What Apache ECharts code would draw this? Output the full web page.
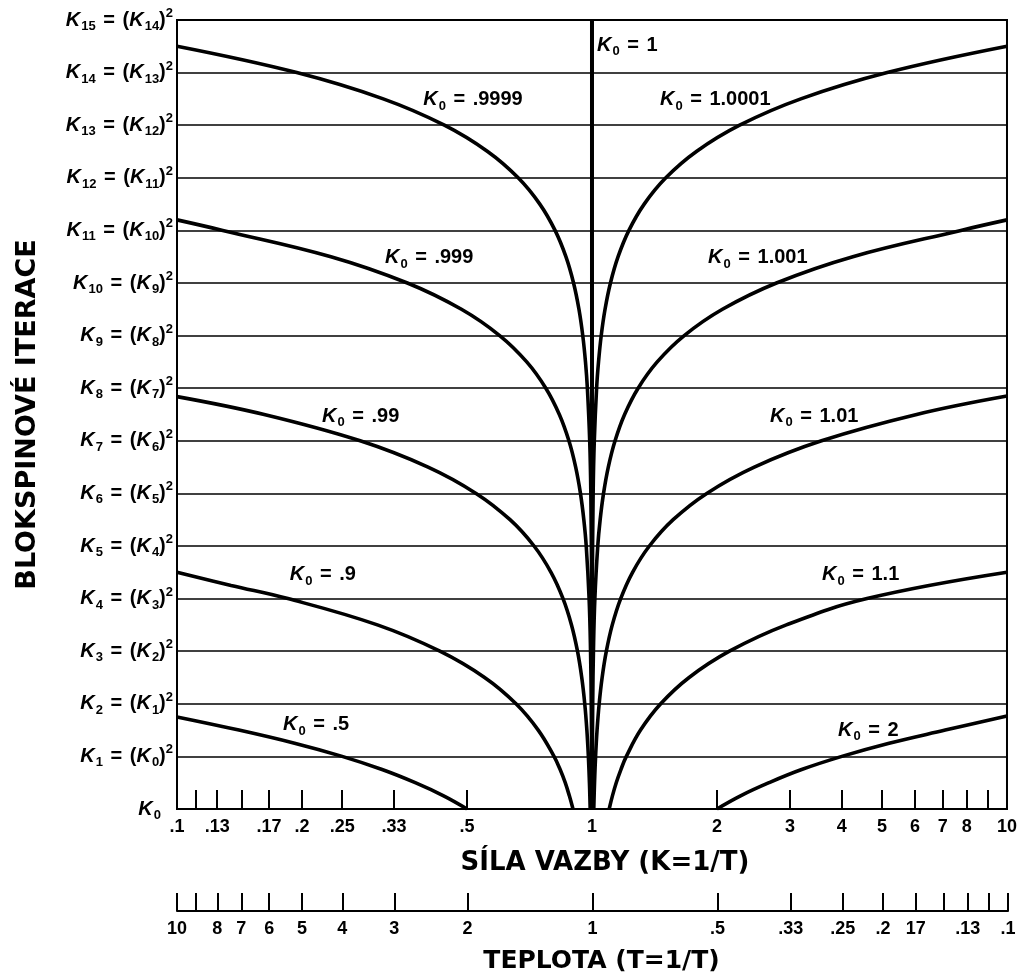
<!DOCTYPE html>
<html><head><meta charset="utf-8">
<script src="https://cdn.jsdelivr.net/npm/echarts@6/dist/echarts.min.js"></script>
<style>html,body{margin:0;padding:0;background:#fff}#c{width:1020px;height:977px}</style>
</head><body><div id="c"></div>
<script>
// Iteration levels (y axis): K_n = (K_{n-1})^2
const levels = [0,1,2,3,4,5,6,7,8,9,10,11,12,13,14,15];

// Coupling-strength axis ticks and labels (K = 1/T)
const kTickValues = [0.1,0.1111,0.125,0.1429,0.1667,0.2,0.25,0.3333,0.5,1,2,3,4,5,6,7,8,9,10];
const kLabelValues = [0.1,0.125,0.1667,0.2,0.25,0.3333,0.5,1,2,3,4,5,6,7,8,10];
const kLabelTexts = ['.1','.13','.17','.2','.25','.33','.5','1','2','3','4','5','6','7','8','10'];

// Temperature axis ticks and labels (T)
const tTickValues = [10,9,8,7,6,5,4,3,2,1,0.5,0.3333,0.25,0.2,0.1667,0.1429,0.125,0.1111,0.1];
const tLabelValues = [10,8,7,6,5,4,3,2,1,0.5,0.3333,0.25,0.2,0.1667,0.125,0.1];
const tLabelTexts = ['10','8','7','6','5','4','3','2','1','.5','.33','.25','.2','17','.13','.1'];

// Flow curves: [K, iteration]
const curveK0_5 = [[0.5,0],[0.439,0.25],[0.375,0.5],[0.312,0.75],[0.25,1],[0.192,1.25],[0.141,1.5],[0.1,1.75]];
const curveK0_9 = [[0.9,0],[0.882,0.25],[0.862,0.5],[0.838,0.75],[0.81,1],[0.742,1.5],[0.656,2],[0.551,2.5],[0.43,3],[0.304,3.5],[0.185,4],[0.135,4.25],[0.1,4.5]];
const curveK0_99 = [[0.99,0],[0.9881,0.25],[0.9859,0.5],[0.9801,1],[0.972,1.5],[0.9606,2],[0.9447,2.5],[0.9227,3],[0.8925,3.5],[0.8515,4],[0.7966,4.5],[0.725,5],[0.6346,5.5],[0.5256,6],[0.4027,6.5],[0.2763,7],[0.1622,7.5],[0.1,7.84]];
const curveK0_999 = [[0.999,0],[0.998,1],[0.996,2],[0.992,3],[0.9841,4],[0.9685,5],[0.9557,5.5],[0.938,6],[0.9134,6.5],[0.8798,7],[0.8343,7.5],[0.774,8],[0.6962,8.5],[0.5991,9],[0.4846,9.5],[0.359,10],[0.2349,10.5],[0.1289,11],[0.1,11.2]];
const curveK0_9999 = [[0.9999,0],[0.9996,2],[0.9984,4],[0.9936,6],[0.9873,7],[0.9747,8],[0.9645,8.5],[0.9501,9],[0.9302,9.5],[0.9027,10],[0.8652,10.5],[0.8148,11],[0.7486,11.5],[0.6639,12],[0.5603,12.5],[0.4408,13],[0.314,13.5],[0.1943,14],[0.1,14.5]];
const curveK1 = [[1,0],[1,15]];
const curveK1_0001 = [[1.0001,0],[1.0004,2],[1.0016,4],[1.0064,6],[1.0129,7],[1.0259,8],[1.0369,8.5],[1.0525,9],[1.0751,9.5],[1.1078,10],[1.1558,10.5],[1.2273,11],[1.3359,11.5],[1.5063,12],[1.7848,12.5],[2.2687,13],[3.1852,13.5],[5.146,14],[10,14.5]];
const curveK1_001 = [[1.001,0],[1.002,1],[1.004,2],[1.008,3],[1.0161,4],[1.0325,5],[1.0463,5.5],[1.0661,6],[1.0947,6.5],[1.1365,7],[1.1983,7.5],[1.2916,8],[1.436,8.5],[1.6681,9],[2.062,9.5],[2.783,10],[4.252,10.5],[7.744,11],[10,11.2]];
const curveK1_01 = [[1.01,0],[1.0119,0.25],[1.0142,0.5],[1.0201,1],[1.0285,1.5],[1.0406,2],[1.0579,2.5],[1.0829,3],[1.1191,3.5],[1.1726,4],[1.2525,4.5],[1.3749,5],[1.5688,5.5],[1.8904,6],[2.461,6.5],[3.574,7],[6.057,7.5],[10,7.85]];
const curveK1_1 = [[1.1,0],[1.12,0.25],[1.144,0.5],[1.174,0.75],[1.21,1],[1.309,1.5],[1.464,2],[1.714,2.5],[2.144,3],[2.94,3.5],[4.6,4],[10,4.5]];
const curveK2 = [[2,0],[2.28,0.25],[2.67,0.5],[3.2,0.75],[4,1],[5.2,1.25],[7.1,1.5],[10,1.77]];

// Curve annotations
const noteTexts = ['1','.9999','1.0001','.999','1.001','.99','1.01','.9','1.1','.5','2'];
const noteK = [1.028,0.392,1.458,0.317,1.904,0.2236,2.685,0.187,3.583,0.180,3.915];
const noteN = [14.52,13.48,13.48,10.48,10.48,7.47,7.47,4.45,4.45,1.60,1.50];

const FONT = 'Liberation Sans';
const TFONT = 'DejaVu Sans';
const rich = {
  k: {fontFamily: FONT, fontStyle: 'italic', fontWeight: 'bold', fontSize: 20, lineHeight: 26, color: '#000', verticalAlign: 'middle'},
  s: {fontFamily: FONT, fontWeight: 'bold', fontSize: 13, lineHeight: 13, color: '#000', verticalAlign: 'bottom', padding: [0,0,0,1]},
  t: {fontFamily: FONT, fontWeight: 'bold', fontSize: 20, lineHeight: 26, color: '#000', verticalAlign: 'middle'},
  e: {fontFamily: FONT, fontWeight: 'bold', fontSize: 20, lineHeight: 26, color: '#000', verticalAlign: 'middle', padding: [0,2,0,2]},
  p: {fontFamily: FONT, fontWeight: 'bold', fontSize: 13, lineHeight: 13, color: '#000', verticalAlign: 'top'},
  gap: {width: 12, fontSize: 12, lineHeight: 12}
};

function lookup(vals, texts, v) {
  for (let i = 0; i < vals.length; i++) {
    if (Math.abs(Math.log(vals[i]) - Math.log(v)) < 2e-3) return texts[i];
  }
  return '';
}

const curves = [curveK0_5, curveK0_9, curveK0_99, curveK0_999, curveK0_9999,
                curveK1_0001, curveK1_001, curveK1_01, curveK1_1, curveK2];

const series = curves.map(d => ({
  type: 'line', xAxisIndex: 0, yAxisIndex: 0, data: d, smooth: 0.4,
  showSymbol: false, symbol: 'none', silent: true,
  lineStyle: {color: '#000', width: 3.6}
}));
series.push({
  type: 'line', xAxisIndex: 0, yAxisIndex: 0, data: curveK1, showSymbol: false, symbol: 'none', silent: true,
  lineStyle: {color: '#000', width: 4}
});
series.push({
  type: 'scatter', xAxisIndex: 0, yAxisIndex: 0, symbolSize: 0, silent: true,
  itemStyle: {opacity: 1, color: '#000'},
  data: noteTexts.map((t, i) => ({value: [noteK[i], noteN[i]], name: t})),
  label: {show: true, position: 'right', distance: 0, color: '#000', opacity: 1,
    formatter: p => '{k|K}{s|0}{e| =}{t| ' + p.name + '}', rich: rich}
});

const tickLabelStyle = {color: '#000', fontFamily: FONT, fontWeight: 'bold', fontSize: 18};

const chart = echarts.init(document.getElementById('c'), null, {renderer: 'canvas'});
chart.setOption({
  animation: false,
  backgroundColor: '#fff',
  grid: [
    {left: 177, right: 12, top: 20, bottom: 168, show: true, borderColor: '#000', borderWidth: 2, backgroundColor: 'transparent'},
    {left: 177, right: 12, top: 891, bottom: 66}
  ],
  xAxis: [
    {
      type: 'log', logBase: 10, min: 0.1, max: 10, gridIndex: 0,
      axisLine: {show: true, lineStyle: {color: '#000', width: 2}},
      axisTick: {show: true, inside: true, length: 19, customValues: kTickValues, lineStyle: {color: '#000', width: 2}},
      minorTick: {show: false},
      splitLine: {show: false},
      axisLabel: Object.assign({customValues: kLabelValues, margin: 9,
        formatter: v => lookup(kLabelValues, kLabelTexts, v)}, tickLabelStyle),
      name: 'SÍLA VAZBY (K=1/T)', nameLocation: 'middle', nameGap: 41,
      nameTextStyle: {fontFamily: TFONT, fontWeight: 'bold', fontSize: 26, color: '#000', padding: [0,0,0,26]}
    },
    {
      type: 'log', logBase: 10, min: 0.1, max: 10, inverse: true, gridIndex: 1,
      axisLine: {show: true, lineStyle: {color: '#000', width: 2}},
      axisTick: {show: true, inside: true, length: 18, customValues: tTickValues, lineStyle: {color: '#000', width: 2}},
      minorTick: {show: false},
      splitLine: {show: false},
      axisLabel: Object.assign({customValues: tLabelValues, margin: 9,
        formatter: v => lookup(tLabelValues, tLabelTexts, v)}, tickLabelStyle),
      name: 'TEPLOTA (T=1/T)', nameLocation: 'middle', nameGap: 38,
      nameTextStyle: {fontFamily: TFONT, fontWeight: 'bold', fontSize: 25, color: '#000', padding: [0,0,0,18]}
    }
  ],
  yAxis: [
    {
      type: 'value', min: 0, max: 15, interval: 1, gridIndex: 0,
      axisLine: {show: true, lineStyle: {color: '#000', width: 2}},
      axisTick: {show: false},
      splitLine: {show: true, lineStyle: {color: '#000', width: 1.5}},
      axisLabel: {margin: 4, color: '#000',
        formatter: v => v === 0 ? '{k|K}{s|0}{gap|}' : '{k|K}{s|' + v + '}{e| =}{t| (}{k|K}{s|' + levels[v - 1] + '}{t|)}{p|2}',
        rich: rich},
      name: 'BLOKSPINOVÉ ITERACE', nameLocation: 'middle', nameRotate: 90, nameGap: 136,
      nameTextStyle: {fontFamily: TFONT, fontWeight: 'bold', fontSize: 27, color: '#000'}
    },
    {type: 'value', gridIndex: 1, show: false, min: 0, max: 1}
  ],
  series: series
});
</script>
</body></html>
